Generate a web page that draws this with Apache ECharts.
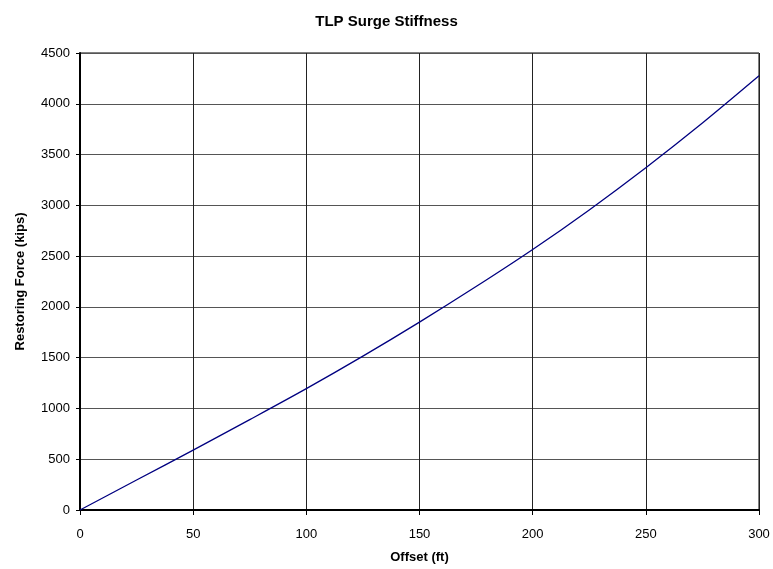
<!DOCTYPE html>
<html>
<head>
<meta charset="utf-8">
<script src="https://cdn.jsdelivr.net/npm/echarts@6/dist/echarts.min.js"></script>
<style>
  html, body { margin: 0; padding: 0; background: #fff; }
  #chart { width: 773px; height: 569px; }
</style>
</head>
<body>
<div id="chart"></div>
<script>
// offset (ft) vs restoring force (kips)
const offsets = [0, 25, 50, 75, 100, 125, 150, 175, 200, 225, 250, 275, 300];
const forces = [0, 295, 590, 890, 1195, 1515, 1850, 2200, 2565, 2955, 3370, 3810, 4275];

const chart = echarts.init(document.getElementById('chart'));

const font = 'Arial, "Liberation Sans", sans-serif';

const option = {
  animation: false,
  title: {
    text: 'TLP Surge Stiffness',
    left: 'center',
    top: 9,
    textStyle: { fontFamily: font, fontSize: 15, fontWeight: 'bold', color: '#000' }
  },
  grid: {
    left: 80, right: 14, top: 53, bottom: 57,
    show: true, borderColor: '#000', borderWidth: 1, backgroundColor: '#fff'
  },
  xAxis: {
    type: 'value',
    min: 0, max: 300, interval: 50,
    name: 'Offset (ft)',
    nameLocation: 'middle',
    nameGap: 41,
    nameTextStyle: { fontFamily: font, fontSize: 13, fontWeight: 'bold', color: '#000' },
    axisLine: { show: true, lineStyle: { color: '#000', width: 2 } },
    axisTick: { show: true, length: 5, lineStyle: { color: '#000' } },
    axisLabel: { fontFamily: font, fontSize: 13, color: '#000', margin: 18, formatter: v => String(v) },
    splitLine: { show: true, lineStyle: { color: '#222', width: 1 } }
  },
  yAxis: {
    type: 'value',
    min: 0, max: 4500, interval: 500,
    name: 'Restoring Force (kips)',
    nameLocation: 'middle',
    nameGap: 53,
    nameTextStyle: { fontFamily: font, fontSize: 13, fontWeight: 'bold', color: '#000' },
    axisLine: { show: true, lineStyle: { color: '#000', width: 2 } },
    axisTick: { show: true, length: 4, lineStyle: { color: '#000' } },
    axisLabel: { fontFamily: font, fontSize: 13, color: '#000', margin: 10, formatter: v => String(v) },
    splitLine: { show: true, lineStyle: { color: '#555', width: 1 } }
  },
  series: [
    {
      type: 'line',
      data: offsets.map((x, i) => [x, forces[i]]),
      showSymbol: false,
      smooth: 0.3,
      lineStyle: { color: '#000080', width: 1.3 }
    }
  ]
};

chart.setOption(option);
</script>
</body>
</html>
